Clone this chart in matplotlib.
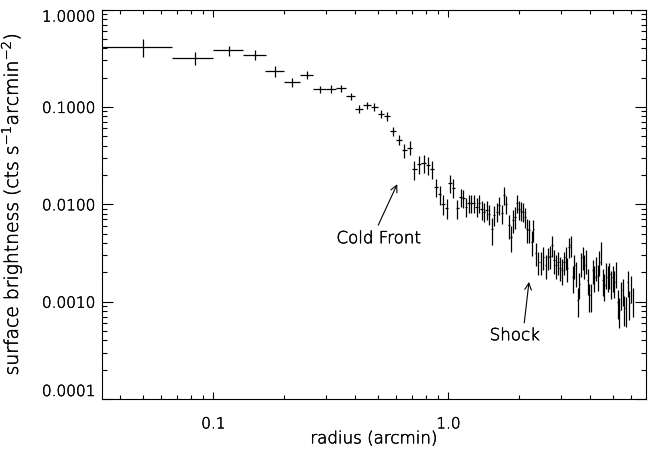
import numpy as np
import matplotlib
matplotlib.use("Agg")
import matplotlib.pyplot as plt
import matplotlib.patheffects as pe
from matplotlib.ticker import LogLocator, NullFormatter

plt.rcParams['font.family'] = ['DejaVu Sans']
plt.rcParams['font.weight'] = 'light'
plt.rcParams['axes.labelweight'] = 'light'
plt.rcParams['mathtext.default'] = 'regular'

# ---------------- data ----------------
radius = [
    0.05, 0.0833, 0.1167, 0.15, 0.1833, 0.2167, 0.25, 0.2833, 0.3167, 0.35,
    0.3833, 0.4167, 0.45, 0.4833, 0.5167, 0.55, 0.5833, 0.6167, 0.65, 0.6833,
    0.7167, 0.75, 0.7833, 0.8167, 0.85, 0.8833, 0.9167, 0.95, 0.9833, 1.0167,
    1.05,
    1.090, 1.127, 1.156, 1.187, 1.219, 1.250, 1.284, 1.318, 1.352, 1.384,
    1.416, 1.454, 1.492, 1.527, 1.566, 1.604, 1.640, 1.684, 1.722, 1.757,
    1.804, 1.840, 1.876, 1.919, 1.963, 2.001, 2.040, 2.081, 2.122, 2.164,
    2.207, 2.259, 2.296, 2.350, 2.411, 2.469, 2.532, 2.592, 2.651, 2.703,
    2.757, 2.811, 2.867, 2.924, 2.982, 3.041, 3.101, 3.153, 3.203, 3.257,
    3.311, 3.377, 3.430, 3.488, 3.546, 3.602, 3.662, 3.725, 3.783, 3.847,
    3.911, 3.973, 4.040, 4.108, 4.173, 4.243, 4.314, 4.382, 4.455, 4.530,
    4.603, 4.680, 4.758, 4.834, 4.915, 4.997, 5.076, 5.162, 5.248, 5.331,
    5.420, 5.512, 5.600, 5.692, 5.789, 5.880, 5.979, 6.098,
]

brightness = [
    0.4106, 0.3166, 0.3798, 0.343, 0.2329, 0.1796, 0.2139, 0.1512, 0.1537, 0.1548,
    0.1281, 0.0958, 0.1036, 0.0995, 0.0852, 0.0799, 0.0561, 0.0461, 0.0358, 0.0382,
    0.02286, 0.0257, 0.0265, 0.0251, 0.02323, 0.01504, 0.01267, 0.0100, 0.00925, 0.01654,
    0.01484,
    0.00905, 0.01175, 0.0117, 0.0094, 0.01034, 0.0103, 0.0104, 0.0094, 0.0102, 0.00884,
    0.00835, 0.0088, 0.00791, 0.00551, 0.00773, 0.00835, 0.00979, 0.00804, 0.0124, 0.01002,
    0.0061, 0.00462, 0.00686, 0.00742, 0.0102, 0.00884, 0.00855, 0.00835, 0.00742, 0.00551,
    0.00542, 0.00411, 0.00551, 0.00317, 0.00256, 0.00256, 0.00288, 0.00237, 0.00284, 0.00293,
    0.0038, 0.00266, 0.00237, 0.00256, 0.00224, 0.0021, 0.00256, 0.00288, 0.00219, 0.00365,
    0.0038, 0.00177, 0.00237, 0.00197, 0.00103, 0.00153, 0.00246, 0.00288, 0.00237, 0.00266,
    0.00166, 0.00116, 0.00116, 0.0021, 0.00179, 0.00227, 0.00182, 0.00256, 0.00324, 0.00166,
    0.00147, 0.00194, 0.00179, 0.00191, 0.00156, 0.00179, 0.00159, 0.00197, 0.00099, 0.00082,
    0.00121, 0.00131, 0.00085, 0.00083, 0.00159, 0.00096, 0.0014, 0.00103,
]

# relative 1-sigma uncertainty of each bin
rel_err = [
    0.20, 0.15, 0.12, 0.11, 0.12, 0.10, 0.09, 0.09, 0.09, 0.09,
    0.08, 0.09, 0.09, 0.09, 0.09, 0.10, 0.11, 0.12, 0.16, 0.16,
    0.22, 0.21, 0.21, 0.21, 0.21, 0.22, 0.22, 0.23, 0.23, 0.21,
    0.21,
    0.22, 0.21, 0.21, 0.22, 0.21, 0.21, 0.21, 0.22, 0.21, 0.22,
    0.22, 0.22, 0.23, 0.30, 0.23, 0.22, 0.21, 0.22, 0.20, 0.21,
    0.28, 0.30, 0.26, 0.25, 0.21, 0.22, 0.22, 0.22, 0.24, 0.27,
    0.27, 0.28, 0.26, 0.27, 0.27, 0.27, 0.26, 0.28, 0.26, 0.26,
    0.25, 0.27, 0.28, 0.27, 0.28, 0.29, 0.27, 0.26, 0.28, 0.24,
    0.24, 0.30, 0.28, 0.29, 0.33, 0.30, 0.27, 0.26, 0.28, 0.27,
    0.30, 0.32, 0.32, 0.28, 0.30, 0.28, 0.30, 0.28, 0.26, 0.31,
    0.31, 0.30, 0.30, 0.30, 0.31, 0.30, 0.31, 0.30, 0.33, 0.34,
    0.32, 0.31, 0.34, 0.34, 0.30, 0.33, 0.31, 0.33,
]

bin_half_width = 1.0 / 60.0      # half of a 2-arcsec radial bin (arcmin)

x_ticks = [0.1, 1.0]
x_tick_labels = ['0.1', '1.0']
y_ticks = [1e-4, 1e-3, 1e-2, 1e-1, 1.0]
y_tick_labels = ['0.0001', '0.0010', '0.0100', '0.1000', '1.0000']

# annotation anchors (data coordinates)
cold_front_tip = (0.6055, 0.01609)
cold_front_tail = (0.5028, 0.0061)
cold_front_text = (0.5047, 0.00448)
shock_tip = (2.201, 0.001594)
shock_tail = (2.101, 0.000604)
shock_text = (1.913, 0.000452)

# ---------------- figure ----------------
r = np.array(radius)
sb = np.array(brightness)
err = sb * np.array(rel_err)
xerr = np.full_like(r, bin_half_width)

fig = plt.figure(figsize=(6.48, 4.5), dpi=100)
ax = fig.add_axes([102 / 648, 1 - 399 / 450, 543.5 / 648, 389.5 / 450])

ax.errorbar(r, sb, yerr=err, xerr=xerr, fmt='none', ecolor='black',
            elinewidth=0.9, capsize=0)

ax.set_xscale('log')
ax.set_yscale('log')
ax.set_xlim(0.0336, 6.89)
ax.set_ylim(1e-4, 1.0)

ax.set_xticks(x_ticks)
ax.set_xticklabels(x_tick_labels)
ax.set_yticks(y_ticks)
ax.set_yticklabels(y_tick_labels)
ax.xaxis.set_minor_locator(LogLocator(base=10, subs=np.arange(2, 10)))
ax.yaxis.set_minor_locator(LogLocator(base=10, subs=np.arange(2, 10)))
ax.xaxis.set_minor_formatter(NullFormatter())
ax.yaxis.set_minor_formatter(NullFormatter())

ax.tick_params(which='both', direction='in', top=True, right=True,
               width=0.8, color='black', labelsize=11, labelcolor='black')
ax.tick_params(axis='x', which='major', length=5, pad=12.5)
ax.tick_params(axis='x', which='minor', length=2.8)
ax.tick_params(axis='y', which='major', length=8, pad=5)
ax.tick_params(axis='y', which='minor', length=3.6)

ylabs = ax.get_yticklabels()
ylabs[0].set_va('bottom')
ylabs[-1].set_va('top')

for s in ax.spines.values():
    s.set_linewidth(0.8)

ax.set_xlabel('radius (arcmin)', fontsize=12, color='black')
ax.set_ylabel('surface brightness (cts s$^{-1}$arcmin$^{-2}$)', fontsize=13.5,
              color='black')
ax.xaxis.set_label_coords(0.5, -0.078)
ax.yaxis.set_label_coords(-0.1435, 0.5)

arrow = dict(arrowstyle='->', lw=0.8, color='black', shrinkA=0, shrinkB=0,
             mutation_scale=12)
ax.annotate('', xy=cold_front_tip, xytext=cold_front_tail, arrowprops=arrow)
t1 = ax.text(*cold_front_text, 'Cold Front', ha='center', va='center',
             fontsize=12, color='black')
ax.annotate('', xy=shock_tip, xytext=shock_tail, arrowprops=arrow)
t2 = ax.text(*shock_text, 'Shock', ha='center', va='center', fontsize=12,
             color='black')

# thin, dark strokes like the original vector font
thin_stroke = [pe.withStroke(linewidth=0.35, foreground='black')]
for t in (list(ax.get_xticklabels()) + list(ax.get_yticklabels())
          + [ax.xaxis.label, ax.yaxis.label, t1, t2]):
    t.set_path_effects(thin_stroke)

fig.savefig('out.png', dpi=100)
